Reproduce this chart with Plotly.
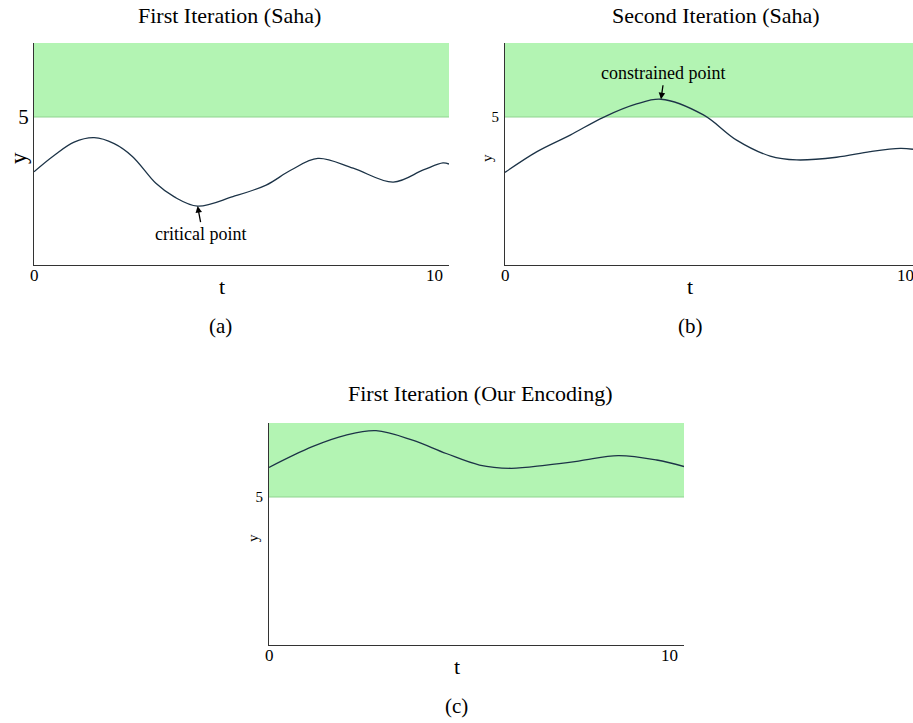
import plotly.graph_objects as go

# ---- data ----
t_a = [0.0, 0.5, 1.0, 1.5, 2.0, 2.46, 3.04, 3.5, 4.08, 4.96, 5.79, 6.4, 7.08, 7.96, 8.96, 9.71, 10.2, 10.35]
y_a = [3.15, 3.7, 4.15, 4.30, 4.1, 3.66, 2.76, 2.3, 1.99, 2.31, 2.70, 3.2, 3.60, 3.27, 2.80, 3.21, 3.45, 3.41]

t_b = [0.0, 0.8, 1.63, 2.46, 3.29, 3.9, 4.96, 5.79, 6.63, 7.29, 8.29, 9.13, 9.88, 10.2]
y_b = [3.13, 3.83, 4.39, 4.99, 5.44, 5.60, 5.07, 4.22, 3.68, 3.55, 3.64, 3.83, 3.94, 3.91]

t_c = [0.0, 1.08, 1.92, 2.67, 3.58, 4.42, 5.25, 6.04, 6.92, 7.75, 8.71, 9.67, 10.35]
y_c = [6.0, 6.70, 7.09, 7.24, 6.92, 6.47, 6.08, 5.97, 6.08, 6.22, 6.40, 6.25, 6.03]

titles = ["First Iteration (Saha)", "Second Iteration (Saha)", "First Iteration (Our Encoding)"]
captions = ["(a)", "(b)", "(c)"]
threshold = 5
y_max = 7.5
x_ticks = [0, 10]
y_ticks = [5]
critical_point = (4.08, 1.99)
constrained_point = (3.9, 5.60)

W, H = 913, 723
SERIF = '"Liberation Serif", "DejaVu Serif", serif'
LINE = "#1c3347"
GREEN = "#b3f4b3"

def px(x):
    return x / W

def py(y):
    return 1 - y / H

# panel pixel boxes: (left, right, top, bottom)
boxes = [(34, 449, 43, 265), (505, 913, 43, 265), (269, 684, 423, 645)]
xranges = [[0, 10.35], [0, 10.2], [0, 10.35]]
series = [(t_a, y_a), (t_b, y_b), (t_c, y_c)]
ytick_sizes = [21, 15, 15]
# text placements in pixels
title_pos = [(229, 15), (716, 15), (480, 394)]
caption_pos = [(220, 326), (690, 326), (456, 706)]
tlabel_pos = [(222, 287), (690, 287), (457, 666)]
ylabel_pos = [(18, 158), (487, 158), (253, 538)]
ylabel_size = [23, 15, 15]

fig = go.Figure()
layout = dict(
    width=W, height=H, margin=dict(l=0, r=0, t=0, b=0),
    paper_bgcolor="white", plot_bgcolor="white", showlegend=False,
    font=dict(family=SERIF, color="black"),
)
shapes = []
annotations = []

def txt(text, pos, size, angle=0):
    return dict(text=text, xref="paper", yref="paper", x=px(pos[0]), y=py(pos[1]),
                xanchor="center", yanchor="middle", showarrow=False, textangle=angle,
                font=dict(family=SERIF, size=size, color="black"))

for i, ((l, r, tp, bt), xr, (tx, ty)) in enumerate(zip(boxes, xranges, series)):
    n = "" if i == 0 else str(i + 1)
    xa, ya = "x" + n, "y" + n
    fig.add_trace(go.Scatter(
        x=tx, y=ty, mode="lines", line=dict(color=LINE, width=1.3, shape="spline", smoothing=1.0),
        xaxis=xa, yaxis=ya, hoverinfo="skip"))
    layout["xaxis" + n] = dict(
        domain=[px(l), px(r)], range=xr, anchor=ya, showgrid=False, zeroline=False,
        showline=True, linecolor="#333333", linewidth=1.2, ticks="",
        showticklabels=False, fixedrange=True,
    )
    layout["yaxis" + n] = dict(
        domain=[py(bt), py(tp)], range=[0, y_max], anchor=xa, showgrid=False, zeroline=False,
        showline=True, linecolor="#333333", linewidth=1.2, ticks="",
        tickvals=y_ticks, ticktext=[str(v) for v in y_ticks],
        tickfont=dict(family=SERIF, size=ytick_sizes[i], color="black"),
        ticklabelstandoff=(0 if i == 0 else 2),
        fixedrange=True,
    )
    # x tick labels (drawn as annotations at the tick values, just under the axis)
    for v in x_ticks:
        annotations.append(dict(text=str(v), x=v, xref=xa, y=py(bt + 10), yref="paper",
                                xanchor="center", yanchor="middle", showarrow=False,
                                font=dict(family=SERIF, size=17, color="black")))
    shapes.append(dict(type="rect", xref=xa + " domain", yref=ya, x0=0, x1=1,
                       y0=threshold, y1=y_max, fillcolor=GREEN,
                       line=dict(width=0), layer="below"))
    shapes.append(dict(type="line", xref=xa + " domain", yref=ya, x0=0, x1=1,
                       y0=threshold, y1=threshold, line=dict(color="#8fd48f", width=1), layer="below"))
    annotations.append(txt(titles[i], title_pos[i], 22))
    annotations.append(txt(captions[i], caption_pos[i], 21))
    annotations.append(txt("t", tlabel_pos[i], 22))
    annotations.append(txt("y", ylabel_pos[i], ylabel_size[i], angle=-90))

annotations.append(dict(text="critical point", x=critical_point[0], y=critical_point[1],
                        xref="x", yref="y", showarrow=True, arrowhead=2, arrowsize=1,
                        arrowwidth=1.3, arrowcolor="black", ax=3, ay=16, yanchor="top",
                        font=dict(family=SERIF, size=18, color="black"), standoff=0))
annotations.append(dict(text="constrained point", x=constrained_point[0], y=constrained_point[1],
                        xref="x2", yref="y2", showarrow=True, arrowhead=2, arrowsize=1,
                        arrowwidth=1.3, arrowcolor="black", ax=2, ay=-14, yanchor="bottom",
                        font=dict(family=SERIF, size=18, color="black"), standoff=0))

layout["shapes"] = shapes
layout["annotations"] = annotations
fig.update_layout(**layout)
fig.write_html("out.html", config={"displayModeBar": False},
               post_script="document.body.style.margin='0';document.body.style.overflow='hidden';")
